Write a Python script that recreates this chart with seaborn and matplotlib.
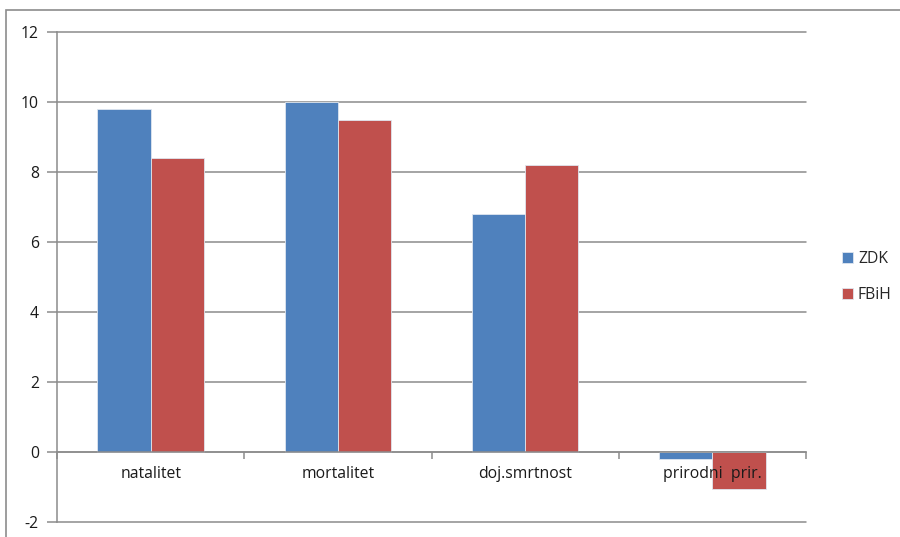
import matplotlib
matplotlib.use("Agg")
import matplotlib.pyplot as plt
from matplotlib.patches import Rectangle
import seaborn as sns
import pandas as pd
import numpy as np

# Rates per category for the two regions
categories = ["natalitet", "mortalitet", "doj.smrtnost", "prirodni  prir."]
zdk = [9.8, 10.0, 6.8, -0.2]
fbih = [8.4, 9.5, 8.2, -1.05]
series = ["ZDK", "FBiH"]
y_ticks = [-2, 0, 2, 4, 6, 8, 10, 12]

df = pd.DataFrame({
    "kategorija": categories * 2,
    "vrijednost": zdk + fbih,
    "regija": [series[0]] * len(categories) + [series[1]] * len(categories),
})

sns.set_theme(style="white")
plt.rcParams["font.family"] = ["Open Sans", "DejaVu Sans"]

W, H = 900, 537
fig = plt.figure(figsize=(W / 100, H / 100), dpi=100)
ax = fig.add_axes([57 / W, 1 - 522 / H, (806 - 57) / W, (522 - 32) / H])

palette = {"ZDK": "#4F81BD", "FBiH": "#C0504D"}
sns.barplot(data=df, x="kategorija", y="vrijednost", hue="regija",
            palette=palette, width=0.57, saturation=1, ax=ax,
            edgecolor="#dfe6ef", linewidth=0.6, zorder=2, legend=True)

ax.set_ylim(-2, 12)
ax.set_xlim(-0.5, len(categories) - 0.5)
ax.set_yticks(y_ticks)
ax.set_yticklabels([str(t) for t in y_ticks])

grid_col = "#8c8c8c"
for t in y_ticks:
    ax.axhline(t, color=grid_col, lw=1.1, zorder=0.5, clip_on=False)

ax.set_axisbelow(False)
for side in ["top", "right"]:
    ax.spines[side].set_visible(False)
ax.spines["left"].set_color(grid_col)
ax.spines["left"].set_linewidth(1.1)
ax.spines["bottom"].set_position(("data", 0))
ax.spines["bottom"].set_color(grid_col)
ax.spines["bottom"].set_linewidth(1.1)

fs = 11.3
ax.set_xticks(np.arange(len(categories)))
ax.set_xticklabels(categories)
ax.set_xticks(np.arange(len(categories) + 1) - 0.5, minor=True)
ax.tick_params(axis="x", which="major", length=0, pad=10, labelsize=fs,
               labelcolor="#1a1a1a")
ax.tick_params(axis="x", which="minor", length=5, width=1.1, color=grid_col,
               direction="out", bottom=True)
ax.tick_params(axis="y", which="major", length=7, width=1.1, color=grid_col,
               direction="out", left=True, pad=6, labelsize=fs,
               labelcolor="#1a1a1a")
for lbl in ax.get_xticklabels():
    lbl.set_zorder(5)

ax.set_xlabel("")
ax.set_ylabel("")

handles, labels = ax.get_legend_handles_labels()
ax.legend(handles, labels, loc="center left", bbox_to_anchor=(836 / W, 1 - 277 / H),
          bbox_transform=fig.transFigure, frameon=False, fontsize=fs,
          handlelength=0.7, handleheight=0.7, handletextpad=0.3,
          labelspacing=1.25, borderaxespad=0)

# chart area border
fig.patches.append(Rectangle((6 / W, -0.1), 1.2, 1 - 10 / H + 0.1,
                             transform=fig.transFigure, fill=False,
                             edgecolor="#8c8c8c", lw=1.2))

fig.savefig("out.png", dpi=100)
